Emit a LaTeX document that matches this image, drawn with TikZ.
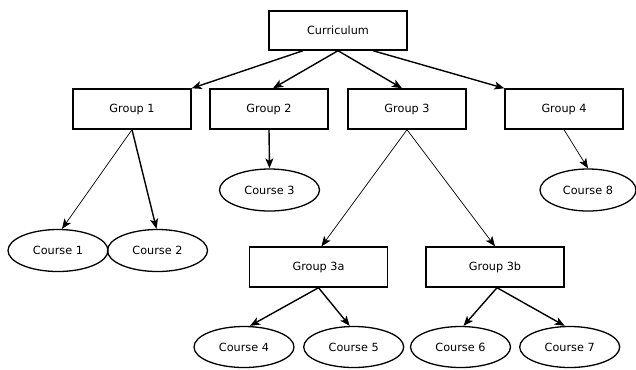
\documentclass[tikz,border=0pt]{standalone}
\usepackage{fontspec}
\setmainfont{DejaVu Sans}
\usetikzlibrary{arrows.meta,shapes.geometric}
\tikzset{
  box/.style={draw, line width=1.4bp, rectangle, minimum width=118bp, minimum height=40bp, inner sep=0pt, font=\fontsize{11.3}{13}\selectfont},
  widebox/.style={box, minimum width=138bp},
  course/.style={draw, line width=1.3bp, ellipse, minimum width=100bp, minimum height=42bp, inner sep=0pt, font=\fontsize{11.3}{13}\selectfont},
  arr/.style={line width=1.4bp, -{Stealth[length=10bp,width=8bp,inset=2.5bp]}},
  thinarr/.style={line width=0.7bp, -{Stealth[length=10bp,width=8bp,inset=2.5bp]}}
}
\begin{document}
\begin{tikzpicture}[x=1bp,y=-1bp]
\useasboundingbox (0,0) rectangle (636,369);
\node[widebox, minimum height=39bp] (cur) at (338,30.5) {Curriculum};
\node[box] (g1) at (132,109) {Group 1};
\node[box] (g2) at (269,109) {Group 2};
\node[box] (g3) at (407,109) {Group 3};
\node[box] (g4) at (564,109) {Group 4};
\node[course] (c1) at (58,250.5) {Course 1};
\node[course] (c2) at (157.5,250.5) {Course 2};
\node[course] (c3) at (269.5,190) {Course 3};
\node[course, minimum width=96bp] (c8) at (588,190) {Course 8};
\node[widebox] (g3a) at (318.5,267) {Group 3a};
\node[widebox] (g3b) at (495,267) {Group 3b};
\node[course, minimum height=41bp] (c4) at (244,347) {Course 4};
\node[course, minimum height=41bp] (c5) at (353.7,347) {Course 5};
\node[course, minimum height=41bp] (c6) at (460.5,347) {Course 6};
\node[course, minimum height=41bp] (c7) at (569.7,347) {Course 7};

\draw[arr] ([xshift=-35bp]cur.south) -- (g1.north east);
\draw[arr] (cur.south) -- ([xshift=4bp]g2.north);
\draw[arr] (cur.south) -- ([xshift=-5bp]g3.north);
\draw[arr] ([xshift=35bp]cur.south) -- (g4.north west);
\draw[thinarr] (g1.south) -- ([xshift=4bp]c1.north);
\draw[arr] (g1.south) -- ([xshift=-1bp]c2.north);
\draw[arr] (g2.south) -- (c3.north);
\draw[thinarr] (g3.south) -- ([xshift=3bp]g3a.north);
\draw[thinarr] (g3.south) -- (g3b.north);
\draw[thinarr] (g4.south) -- (c8.north);
\draw[arr] (g3a.south) -- ([xshift=6bp]c4.north);
\draw[arr] (g3a.south) -- ([xshift=-4bp]c5.north);
\draw[arr] ([xshift=2bp]g3b.south) -- ([xshift=3bp]c6.north);
\draw[arr] ([xshift=2bp]g3b.south) -- ([xshift=-5bp]c7.north);
\end{tikzpicture}
\end{document}
